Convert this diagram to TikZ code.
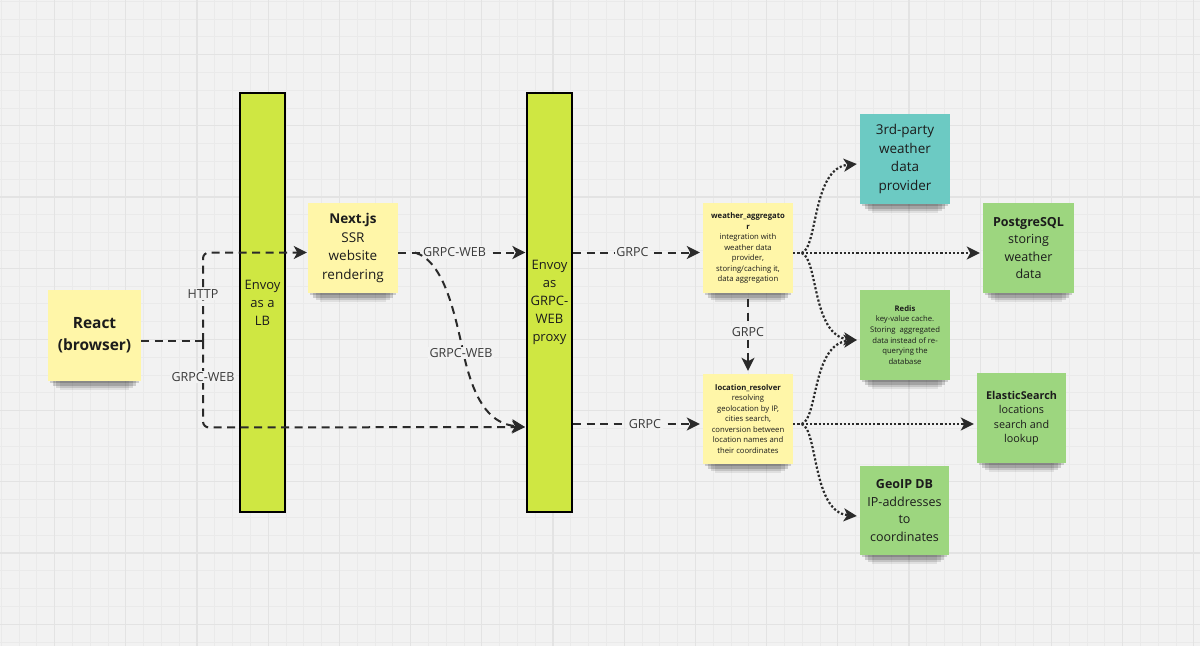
\documentclass[tikz,border=0pt]{standalone}
\usepackage{fontspec}
\setmainfont{Open Sans}
\usetikzlibrary{arrows.meta,calc,backgrounds}
\definecolor{bgc}{HTML}{F2F2F2}
\definecolor{gridminor}{HTML}{EAEAEA}
\definecolor{gridmajor}{HTML}{E3E3E3}
\definecolor{stickyY}{HTML}{FFF6A8}
\definecolor{stickyG}{HTML}{9DD67F}
\definecolor{stickyT}{HTML}{6CCAC3}
\definecolor{envoyc}{HTML}{CFE742}
\definecolor{ink}{HTML}{1C1C1C}
\definecolor{linec}{HTML}{2A2A2A}
\definecolor{labc}{HTML}{3A3A3A}
\begin{document}
\begin{tikzpicture}[x=1pt,y=-1pt,
  sticky/.style={minimum width=90pt, minimum height=90pt, inner sep=2pt, align=center, text=ink},
  envoybar/.style={draw=black, line width=2.2pt, fill=envoyc, minimum width=45pt, minimum height=419pt,
    inner sep=0pt, align=center, text=ink, font=\fontsize{13}{18}\selectfont},
  lbl/.style={fill=bgc, inner sep=1.5pt, text=labc, font=\fontsize{12.5}{14}\selectfont},
  tipa/.style={-{Stealth[length=13pt,width=13pt,inset=3.5pt]}},
  dashconn/.style={draw=linec, line width=2pt, dash pattern=on 8pt off 5.5pt},
  dotconn/.style={draw=linec, line width=2.2pt, dash pattern=on 2.2pt off 2pt},
  shadowband/.style={fill=black, opacity=#1},
  shadowband/.default=0.1
]
\useasboundingbox (0,0) rectangle (1200,646);
\begin{pgfonlayer}{background}
\fill[bgc] (0,0) rectangle (1200,646);
% grid
\foreach \i in {-3,...,67} { \draw[gridminor, line width=0.8pt] ({54.5+17.8*\i},0) -- ({54.5+17.8*\i},646); }
\foreach \i in {-3,...,34} { \draw[gridminor, line width=0.8pt] (0,{54.5+17.8*\i}) -- (1200,{54.5+17.8*\i}); }
\foreach \i in {0,...,16} { \draw[gridmajor, line width=1.2pt] ({54.5+71.2*\i},0) -- ({54.5+71.2*\i},646); }
\foreach \i in {0,...,8} { \draw[gridmajor, line width=1.2pt] (0,{54.5+71.2*\i}) -- (1200,{54.5+71.2*\i}); }
\end{pgfonlayer}

% nodes
\node[sticky, fill=stickyY, minimum width=93pt, minimum height=91pt, font=\fontsize{15.5}{22}\selectfont\bfseries] (react) at (94.5,335.5) {React\\(browser)};
\node[envoybar] (lb) at (262.5,302.5) {Envoy\\as a\\LB};
\node[envoybar] (proxy) at (549.5,302.5) {Envoy\\as\\GRPC-\\WEB\\proxy};
\node[sticky, fill=stickyY, font=\fontsize{13.5}{18.7}\selectfont] (next) at (353,248) {\textbf{Next.js}\\SSR\\website\\rendering};
\node[sticky, fill=stickyY, font=\fontsize{7.7}{10.5}\selectfont] (wagg) at (748,248)
  {\textbf{weather\_aggregato}\\\textbf{r}\\integration with\\weather data\\provider,\\storing/caching it,\\data aggregation};
\node[sticky, fill=stickyY, font=\fontsize{7.7}{10.5}\selectfont] (locres) at (748,419)
  {\textbf{location\_resolver}\\resolving\\geolocation by IP,\\cities search,\\conversion between\\location names and\\their coordinates};
\node[sticky, fill=stickyG, font=\fontsize{7.7}{10.6}\selectfont] (redis) at (905,335)
  {\textbf{Redis}\\key-value cache.\\Storing\ \ aggregated\\data instead of re-\\querying the\\database};
\node[sticky, fill=stickyT, font=\fontsize{13.5}{18.4}\selectfont] (third) at (905,159) {3rd-party\\weather\\data\\provider};
\node[sticky, fill=stickyG, minimum width=91pt, font=\fontsize{12.5}{17.2}\selectfont] (pg) at (1028.5,248) {\textbf{PostgreSQL}\\storing\\weather\\data};
\node[sticky, fill=stickyG, minimum width=89pt, font=\fontsize{10.8}{14.4}\selectfont] (es) at (1021.5,418) {\textbf{ElasticSearch}\\locations\\search and\\lookup};
\node[sticky, fill=stickyG, minimum width=89pt, minimum height=89pt, font=\fontsize{12.5}{17.4}\selectfont] (geo) at (904.5,510.5) {\textbf{GeoIP DB}\\IP-addresses\\to\\coordinates};

% sticky-note shadows (behind the notes, above the grid)
\begin{pgfonlayer}{background}
\foreach \n in {react,next,wagg,locres,redis,third,pg,es,geo} {
  \fill[shadowband=0.08] ($(\n.south west)+(12,-10)$) rectangle ($(\n.south east)+(-12,9)$);
  \fill[shadowband=0.12] ($(\n.south west)+(8,-10)$) rectangle ($(\n.south east)+(-8,7)$);
  \fill[shadowband=0.16] ($(\n.south west)+(5,-10)$) rectangle ($(\n.south east)+(-5,4.5)$);
  \fill[shadowband=0.16] ($(\n.south west)+(2,-10)$) rectangle ($(\n.south east)+(-2,2)$);
}
\end{pgfonlayer}

% junction coordinates
\coordinate (j) at (203,341);
\coordinate (jt) at (203,252.5);
\coordinate (jb) at (203,427.5);
\coordinate (nx) at (415,252.5);
\coordinate (pin) at (525,427);
\coordinate (wb) at (801.7,253);
\coordinate (lbr) at (801.7,424);

% React -> Next.js / proxy
\draw[dashconn] (react.east |- j) -- (j);
\draw[dashconn, tipa, rounded corners=6pt] (j) -- (jt) -- ($(jt -| next.west)+(-1,0)$);
\draw[dashconn, tipa, rounded corners=6pt] (j) -- (jb) -- (pin);
\node[lbl] (lhttp) at (203,294) {HTTP};
\node[lbl] (lgw1) at (203,377) {GRPC-WEB};

% Next.js -> proxy
\draw[dashconn, tipa] (next.east |- nx) -- ($(nx -| proxy.west)+(-0.5,0)$);
\node[lbl] (lgw2) at (454.5,252.5) {GRPC-WEB};
\draw[dashconn, tipa] (nx) .. controls (445,262) and (455,315) .. (465,360) .. controls (476,405) and (492,424) .. (pin);
\node[lbl] (lgw3) at (461,353) {GRPC-WEB};

% proxy -> services
\draw[dashconn, tipa] (proxy.east |- 0,252.5) -- ($(wagg.west |- 0,252.5)+(-3,0)$);
\node[lbl] (lg1) at (632.5,252.5) {GRPC};
\draw[dashconn, tipa] (proxy.east |- 0,424) -- ($(locres.west |- 0,424)+(-3,0)$);
\node[lbl] (lg2) at (645,424) {GRPC};
\draw[dashconn, tipa] ($(wagg.south)+(0,6)$) -- ($(locres.north)+(0,-3)$);
\node[lbl] (lg3) at (748,332.5) {GRPC};

% weather_aggregator -> stores
\draw[dotconn] (wagg.east |- wb) -- (wb);
\draw[dotconn, tipa] (wb) -- ($(pg.west |- wb)+(-3,0)$);
\draw[dotconn, tipa] (wb) .. controls (818,248) and (812,168) .. ($(third.west)+(-3,5)$);
\draw[dotconn, tipa] (wb) .. controls (818,258) and (812,336) .. ($(redis.west)+(-3,5)$);

% location_resolver -> stores
\draw[dotconn] (locres.east |- lbr) -- (lbr);
\draw[dotconn, tipa] (lbr) -- ($(es.west |- lbr)+(-3,0)$);
\draw[dotconn, tipa] (lbr) .. controls (818,419) and (812,344) .. ($(redis.west)+(-3,5)$);
\draw[dotconn, tipa] (lbr) .. controls (818,429) and (812,512) .. ($(geo.west)+(-3,5.5)$);
\end{tikzpicture}
\end{document}
